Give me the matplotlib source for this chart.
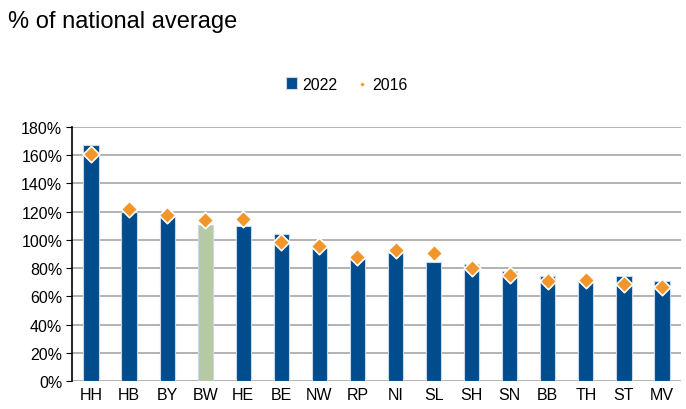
import matplotlib.pyplot as plt
import numpy as np

plt.rcParams['font.family'] = ['Liberation Sans', 'DejaVu Sans']

# Daten
laender = ['HH', 'HB', 'BY', 'BW', 'HE', 'BE', 'NW', 'RP', 'NI', 'SL',
           'SH', 'SN', 'BB', 'TH', 'ST', 'MV']
werte_2022 = [167, 120, 116.5, 110.5, 110, 104, 94, 86.5, 91, 84.5,
              83, 77.7, 74.6, 70, 74.6, 71]
werte_2016 = [161, 122, 117.6, 114, 115, 98.7, 95.7, 88, 93, 90.4,
              80, 75.3, 71, 71.6, 68.7, 66.6]
y_ticks = np.arange(0, 181, 20)

blau = '#004c8c'
gruen = '#b5c9a5'
orange = '#f0962a'

fig = plt.figure(figsize=(6.86, 4.10), dpi=100)
ax = fig.add_axes([72 / 686, 28 / 410, 609 / 686, 254 / 410])

x = np.arange(len(laender))
farben = [gruen if l == 'BW' else blau for l in laender]
balken = ax.bar(x, werte_2022, width=0.4, color=farben, edgecolor='#c8d8e8',
                linewidth=0.8, zorder=2, label='2022')
punkte = ax.scatter(x, werte_2016, marker='D', s=70, color=orange,
                    edgecolor='white', linewidth=1.2, zorder=3, label='2016')

ax.set_xlim(-0.5, len(laender) - 0.5)
ax.set_ylim(0, 180)
ax.set_yticks(y_ticks)
ax.set_yticklabels([f'{v}%' for v in y_ticks], fontsize=11.5)
ax.set_xticks(x)
ax.set_xticklabels(laender, fontsize=11.5)
ax.grid(axis='y', color='#a6a6a6', linewidth=1.2, zorder=0)
ax.tick_params(axis='x', length=0, pad=4)
ax.tick_params(axis='y', length=4, direction='out', color='black', pad=3)
for s in ['top', 'right', 'bottom']:
    ax.spines[s].set_visible(False)
ax.spines['left'].set_color('black')
ax.spines['left'].set_linewidth(1.2)

fig.text(8 / 686, 1 - 22 / 410, '% of national average', fontsize=17,
         va='center', ha='left')

fig.legend([balken, punkte], ['2022', '2016'], loc='center',
           bbox_to_anchor=(347 / 686, 1 - 85 / 410),
           ncol=2, frameon=False, fontsize=11.5, handlelength=0.7,
           handletextpad=0.3, columnspacing=1.2, markerscale=0.4)

fig.savefig('out.png', dpi=100)
